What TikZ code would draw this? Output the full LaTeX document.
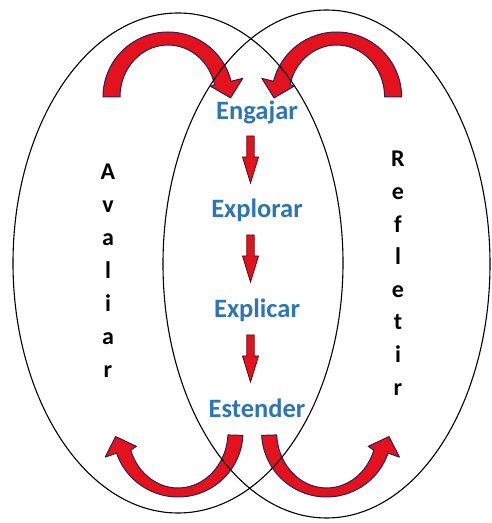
\documentclass[tikz,border=0pt]{standalone}
\usepackage{fontspec}
\setmainfont{Carlito}
\usetikzlibrary{calc}
\definecolor{stageblue}{RGB}{46,117,182}
\definecolor{loopred}{RGB}{228,18,28}
\definecolor{loopedge}{RGB}{38,32,92}
\definecolor{flowedge}{RGB}{90,10,20}

% curved block arrow: centre, start angle, end angle, tip direction, inner x/y radius
\newcommand{\looparrow}[6]{%
  \filldraw[loopfill] ($(#1)+(#2:65)$) arc[start angle=#2, end angle=#3, radius=65]
    -- ($(#1)+(#3:77)$) -- ($(#1)+(#3:60.5)+(#4:16)$) -- ($(#1)+(#3:44)$)
    -- ($(#1)+(#3:#5 and #6)$) arc[start angle=#3, end angle=#2, x radius=#5, y radius=#6]
    -- cycle;}
% small block arrow pointing down from a coordinate
\newcommand{\stagearrow}[1]{%
  \filldraw[flowarrow] ($(#1)+(-3.7,0)$) -- ($(#1)+(-3.7,-21)$) -- ($(#1)+(-8,-21)$)
    -- ($(#1)+(0,-47)$) -- ($(#1)+(8,-21)$) -- ($(#1)+(3.7,-21)$) -- ($(#1)+(3.7,0)$) -- cycle;}

\begin{document}
\begin{tikzpicture}[
    x=1pt, y=1pt,
    stage/.style={font=\fontsize{26.5}{30}\selectfont\bfseries, text=stageblue,
      anchor=base, inner sep=0pt},
    side/.style={font=\fontsize{24}{28}\selectfont\bfseries, anchor=base, inner sep=0pt},
    ring/.style={draw=black, line width=1.1pt},
    loopfill/.style={fill=loopred, draw=loopedge, line width=1pt, line join=round},
    flowarrow/.style={fill=loopred, draw=flowedge, line width=0.8pt},
  ]
  \useasboundingbox (0,0) rectangle (491,523);

  % the four phases
  \node[stage] (engajar) at (257,403) {Engajar};
  \node[stage] (explorar) at (257,305) {Explorar};
  \node[stage] (explicar) at (257,205) {Explicar};
  \node[stage] (estender) at (257,105) {Estender};

  \coordinate (s1) at ($(engajar.base)+(-6.5,-16)$);
  \coordinate (s2) at ($(explorar.base)+(-6.5,-17)$);
  \coordinate (s3) at ($(explicar.base)+(-6.5,-17)$);
  \stagearrow{s1}
  \stagearrow{s2}
  \stagearrow{s3}

  % side words, one letter per line
  \foreach \c [count=\i] in {A,v,a,l,i,a,r}
    \node[side] (av\i) at (108,{343-(\i-1)*33}) {\c};
  \foreach \c [count=\i] in {R,e,f,l,e,t,i,r}
    \node[side] (re\i) at (398,{356-(\i-1)*32.6}) {\c};

  % loop arrows
  \coordinate (tl) at (168,426);
  \coordinate (tr) at (336.6,426);
  \coordinate (bl) at (178,91);
  \coordinate (br) at (326.6,91);
  \looparrow{tl}{180}{14}{-76}{48}{52}
  \looparrow{tr}{0}{166}{256}{48}{52}
  \looparrow{bl}{-3}{-161}{109}{50}{56}
  \looparrow{br}{183}{341}{71}{50}{56}

  % the two cycles
  \draw[ring] (178,260) ellipse[x radius=165, y radius=250];
  \draw[ring] (326.5,259) ellipse[x radius=163.5, y radius=254];
\end{tikzpicture}
\end{document}
